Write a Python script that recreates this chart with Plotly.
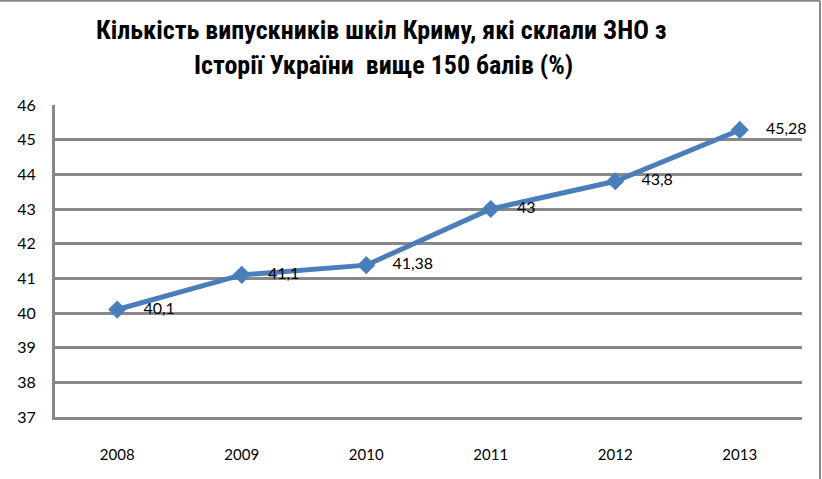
import plotly.graph_objects as go

years = ["2008", "2009", "2010", "2011", "2012", "2013"]
values = [40.1, 41.1, 41.38, 43.0, 43.8, 45.28]
labels = ["40,1", "41,1", "41,38", "43", "43,8", "45,28"]
y_ticks = [37, 38, 39, 40, 41, 42, 43, 44, 45, 46]

title_line1 = "Кількість випускників шкіл Криму, які склали ЗНО з"
title_line2 = "Історії України  вище 150 балів (%)"

title_font = dict(family="Liberation Sans Narrow, Roboto Condensed, Liberation Sans, sans-serif",
                  size=26, color="#000000", weight="bold")
tick_font = dict(family="Lato, Open Sans, sans-serif", size=16, color="#000000")

fig = go.Figure()
fig.add_trace(go.Scatter(
    x=years, y=values, mode="lines+markers+text",
    text=["    " + s for s in labels], textposition="middle right",
    textfont=dict(family="Lato, Open Sans, sans-serif", size=16, color="#000000"),
    line=dict(color="#4A7EBB", width=5),
    marker=dict(symbol="diamond", size=14, color="#4A7EBB"),
    cliponaxis=False, showlegend=False,
))

fig.update_layout(
    width=822, height=479,
    margin=dict(l=55, r=20, t=105, b=62),
    paper_bgcolor="white", plot_bgcolor="white",
    xaxis=dict(type="category", range=[-0.5, 5.5], showgrid=False, zeroline=False,
               showline=True, linecolor="#888888", linewidth=3,
               ticks="", tickfont=dict(family="Lato, Open Sans, sans-serif", size=15, color="#000000"),
               ticklabelstandoff=22),
    yaxis=dict(range=[37, 46], tickvals=y_ticks, ticktext=[str(v) for v in y_ticks],
               showgrid=True, gridcolor="#888888", gridwidth=3,
               showline=True, linecolor="#888888", linewidth=3,
               zeroline=False, ticks="", tickfont=tick_font,
               ticklabelstandoff=13),
    annotations=[
        dict(text=title_line1, xref="paper", yref="paper", x=0.437, y=1.2404,
             xanchor="center", yanchor="middle", showarrow=False, font=title_font),
        dict(text=title_line2, xref="paper", yref="paper", x=0.44, y=1.128,
             xanchor="center", yanchor="middle", showarrow=False, font=title_font),
    ],
    shapes=[
        dict(type="line", xref="paper", yref="paper", x0=-0.08, x1=1.0241, y0=1.334, y1=1.334,
             line=dict(color="#888888", width=2)),
        dict(type="line", xref="paper", yref="paper", x0=1.0241, x1=1.0241, y0=1.334, y1=-0.2,
             line=dict(color="#888888", width=2)),
    ],
)

fig.write_html("out.html")
